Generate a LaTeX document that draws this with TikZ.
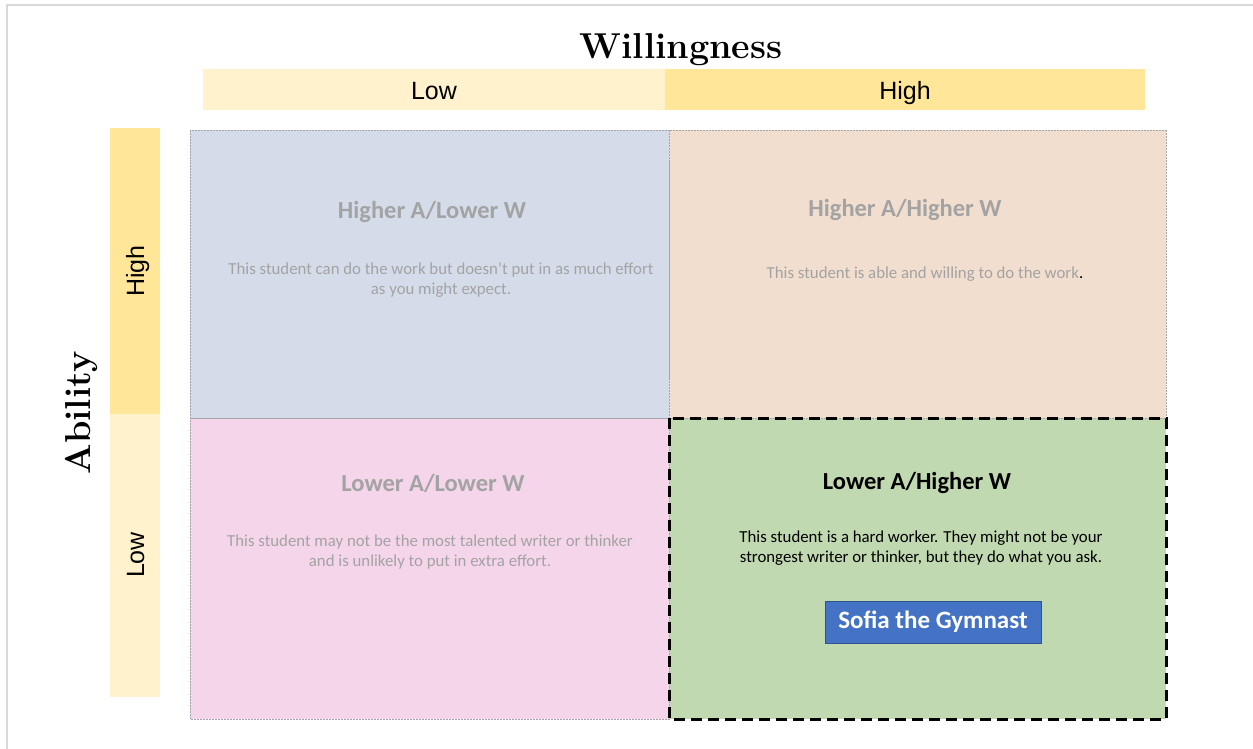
\documentclass[tikz,border=0pt]{standalone}
\usepackage{fontspec}
\newfontfamily\calfont{Carlito}
\newfontfamily\arfont{Liberation Sans}
\definecolor{ylight}{HTML}{FFF2CC}
\definecolor{ydark}{HTML}{FFE699}
\definecolor{qblue}{HTML}{D4DCEA}
\definecolor{qpeach}{HTML}{F2DECF}
\definecolor{qpink}{HTML}{F5D5EA}
\definecolor{qgreen}{HTML}{C1D9B0}
\definecolor{qtext}{HTML}{A3A3A3}
\definecolor{btnfill}{HTML}{4472C4}
\definecolor{btnline}{HTML}{2F528F}
\definecolor{frame}{HTML}{D9D9D9}
\tikzset{
  quad/.style={draw=gray!70, line width=0.5pt, densely dotted},
  qtitle/.style={font=\calfont\bfseries\fontsize{24.5}{28}\selectfont, text=qtext},
  qbody/.style={font=\calfont\fontsize{16.8}{20}\selectfont, text=qtext, align=center},
  hdr/.style={font=\arfont\fontsize{25}{28}\selectfont, anchor=base},
  axis/.style={font=\bfseries\fontsize{36}{40}\selectfont},
}
\begin{document}
\begin{tikzpicture}[x=1pt,y=-1pt]
\useasboundingbox (0,0) rectangle (1253,749);
% frame lines
\draw[frame, line width=1.5pt] (7,749) -- (7,5) -- (1253,5);
% top headers
\fill[ylight] (203,69) rectangle (665,110);
\fill[ydark] (665,69) rectangle (1145,110);
\node[hdr] (wlow) at (434,100) {Low};
\node[hdr] (whigh) at (905,100) {High};
\node[axis] (will) at (681,50) {Willingness};
% left headers
\fill[ydark] (110,128) rectangle (160,414);
\fill[ylight] (110,414) rectangle (160,697);
\node[hdr, rotate=90] (ahigh) at (144,271) {High};
\node[hdr, rotate=90] (alow) at (144,555) {Low};
\node[axis, rotate=90] (abil) at (81,413) {Ability};
% quadrants
\fill[qblue] (190,130) rectangle (669,418);
\fill[qpeach] (669,130) rectangle (1166,418);
\fill[qpink] (190,418) rectangle (669,719);
\fill[qgreen] (669,418) rectangle (1166,719);
\draw[quad] (190,130) rectangle (669,418);
\draw[quad] (669,130) rectangle (1166,418);
\draw[quad] (190,418) rectangle (669,719);
\draw[black, line width=3pt, dash pattern=on 11pt off 6pt] (669,418) rectangle (1166,719);
% texts
\node[qtitle] (t1) at (432,212) {Higher A/Lower W};
\node[qbody] (b1) at (441,280) {This student can do the work but doesn’t put in as much effort\\as you might expect.};
\node[qtitle] (t2) at (905,210) {Higher A/Higher W};
\node[qbody] (b2) at (925,274) {This student is able and willing to do the work\textcolor{black}{.}};
\node[qtitle] (t3) at (433,483) {Lower A/Lower W};
\node[qbody] (b3) at (430,552) {This student may not be the most talented writer or thinker\\and is unlikely to put in extra effort.};
\node[qtitle, text=black] (t4) at (917,483) {Lower A/Higher W};
\node[qbody, text=black] (b4) at (921,548) {This student is a hard worker. They might not be your\\strongest writer or thinker, but they do what you ask.};
\node[draw=btnline, fill=btnfill, line width=0.8pt, minimum width=216pt, minimum height=42pt, inner sep=0pt,
  font=\calfont\bfseries\fontsize{25}{28}\selectfont, text=white] (btn) at (933,622) {Sofia the Gymnast};
\end{tikzpicture}
\end{document}
